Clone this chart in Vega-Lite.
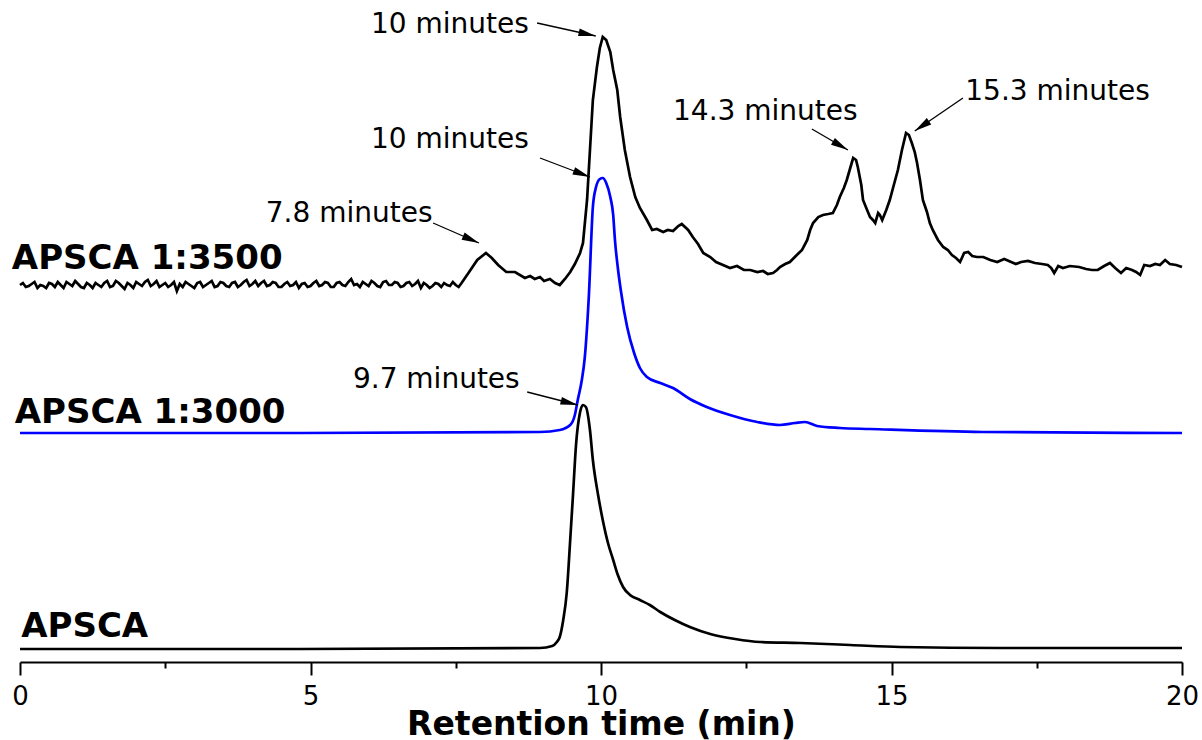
{
  "$schema": "https://vega.github.io/schema/vega-lite/v6.json",
  "width": 1162,
  "height": 662,
  "autosize": "none",
  "padding": {"left": 20, "top": 0, "right": 20, "bottom": 78},
  "background": "white",
  "config": {"view": {"stroke": null}, "font": "DejaVu Sans"},
  "datasets": {
    "apsca": [
      {"t":0,"s":13},{"t":4.82,"s":13},{"t":8.95,"s":14},{"t":9.16,"s":16},{"t":9.24,"s":20},{"t":9.29,"s":25},{"t":9.35,"s":42},{"t":9.41,"s":69},{"t":9.47,"s":122},{"t":9.52,"s":169},{"t":9.57,"s":217},{"t":9.64,"s":250},{"t":9.69,"s":257},{"t":9.74,"s":255},{"t":9.81,"s":232},{"t":9.86,"s":202},{"t":9.95,"s":167},{"t":10.03,"s":142},{"t":10.12,"s":119},{"t":10.21,"s":102},{"t":10.29,"s":87},{"t":10.38,"s":75},{"t":10.5,"s":67},{"t":10.67,"s":62},{"t":10.84,"s":57},{"t":11.02,"s":50},{"t":11.27,"s":42},{"t":11.53,"s":35},{"t":11.88,"s":28},{"t":12.31,"s":23},{"t":12.74,"s":20},{"t":13.43,"s":19},{"t":14.29,"s":17},{"t":15.15,"s":15},{"t":16.87,"s":14},{"t":20,"s":14}
    ],
    "apsca3000": [
      {"t":0,"s":229},{"t":4.82,"s":229},{"t":8.95,"s":230},{"t":9.29,"s":232},{"t":9.47,"s":237},{"t":9.55,"s":247},{"t":9.6,"s":262},{"t":9.67,"s":282},{"t":9.72,"s":304},{"t":9.79,"s":365},{"t":9.86,"s":455},{"t":9.91,"s":474},{"t":9.98,"s":483},{"t":10.03,"s":484},{"t":10.09,"s":479},{"t":10.16,"s":465},{"t":10.21,"s":447},{"t":10.24,"s":422},{"t":10.29,"s":394},{"t":10.34,"s":372},{"t":10.45,"s":335},{"t":10.57,"s":309},{"t":10.67,"s":294},{"t":10.79,"s":285},{"t":11.02,"s":279},{"t":11.24,"s":274},{"t":11.53,"s":263},{"t":11.82,"s":255},{"t":12.22,"s":247},{"t":12.69,"s":240},{"t":13.08,"s":237},{"t":13.34,"s":239},{"t":13.51,"s":240},{"t":13.72,"s":236},{"t":14.11,"s":234},{"t":14.63,"s":233},{"t":16.57,"s":230},{"t":20,"s":229}
    ],
    "apsca3500": [
      {"t":0,"s":377},{"t":0.05,"s":379},{"t":0.1,"s":375},{"t":0.15,"s":376},{"t":0.2,"s":378},{"t":0.25,"s":380},{"t":0.3,"s":374},{"t":0.35,"s":377},{"t":0.4,"s":376},{"t":0.45,"s":374},{"t":0.5,"s":379},{"t":0.55,"s":378},{"t":0.6,"s":375},{"t":0.65,"s":380},{"t":0.7,"s":377},{"t":0.75,"s":374},{"t":0.8,"s":380},{"t":0.85,"s":378},{"t":0.9,"s":376},{"t":0.95,"s":381},
      {"t":1.0,"s":378},{"t":1.05,"s":375},{"t":1.1,"s":374},{"t":1.15,"s":379},{"t":1.2,"s":377},{"t":1.25,"s":374},{"t":1.3,"s":379},{"t":1.35,"s":377},{"t":1.4,"s":375},{"t":1.45,"s":379},{"t":1.5,"s":381},{"t":1.55,"s":375},{"t":1.6,"s":376},{"t":1.65,"s":381},{"t":1.7,"s":379},{"t":1.75,"s":376},{"t":1.8,"s":373},{"t":1.85,"s":379},{"t":1.9,"s":377},{"t":1.95,"s":374},
      {"t":2.0,"s":380},{"t":2.05,"s":378},{"t":2.1,"s":376},{"t":2.15,"s":380},{"t":2.2,"s":382},{"t":2.25,"s":376},{"t":2.3,"s":378},{"t":2.35,"s":381},{"t":2.4,"s":375},{"t":2.45,"s":377},{"t":2.5,"s":379},{"t":2.55,"s":375},{"t":2.6,"s":377},{"t":2.65,"s":380},{"t":2.7,"s":371},{"t":2.75,"s":378},{"t":2.8,"s":375},{"t":2.85,"s":380},{"t":2.9,"s":378},{"t":2.95,"s":376},
      {"t":3.0,"s":374},{"t":3.05,"s":379},{"t":3.1,"s":380},{"t":3.15,"s":375},{"t":3.2,"s":377},{"t":3.25,"s":379},{"t":3.3,"s":381},{"t":3.35,"s":375},{"t":3.4,"s":376},{"t":3.45,"s":380},{"t":3.5,"s":379},{"t":3.55,"s":376},{"t":3.6,"s":375},{"t":3.65,"s":379},{"t":3.7,"s":380},{"t":3.75,"s":375},{"t":3.8,"s":377},{"t":3.85,"s":380},{"t":3.9,"s":382},{"t":3.95,"s":376},
      {"t":4.0,"s":378},{"t":4.05,"s":381},{"t":4.1,"s":376},{"t":4.15,"s":379},{"t":4.2,"s":381},{"t":4.25,"s":376},{"t":4.3,"s":377},{"t":4.35,"s":380},{"t":4.4,"s":379},{"t":4.45,"s":375},{"t":4.5,"s":375},{"t":4.55,"s":378},{"t":4.6,"s":380},{"t":4.65,"s":376},{"t":4.7,"s":377},{"t":4.75,"s":380},{"t":4.8,"s":374},{"t":4.85,"s":378},{"t":4.9,"s":379},{"t":4.95,"s":375},
      {"t":5.0,"s":376},{"t":5.05,"s":379},{"t":5.1,"s":381},{"t":5.15,"s":376},{"t":5.2,"s":377},{"t":5.25,"s":380},{"t":5.3,"s":379},{"t":5.35,"s":375},{"t":5.4,"s":375},{"t":5.45,"s":379},{"t":5.5,"s":380},{"t":5.55,"s":377},{"t":5.6,"s":376},{"t":5.65,"s":380},{"t":5.7,"s":383},{"t":5.75,"s":377},{"t":5.8,"s":378},{"t":5.85,"s":375},{"t":5.9,"s":380},{"t":5.95,"s":378},
      {"t":6.0,"s":376},{"t":6.05,"s":381},{"t":6.1,"s":379},{"t":6.15,"s":376},{"t":6.2,"s":375},{"t":6.25,"s":380},{"t":6.3,"s":381},{"t":6.35,"s":377},{"t":6.4,"s":377},{"t":6.45,"s":380},{"t":6.5,"s":379},{"t":6.55,"s":375},{"t":6.6,"s":376},{"t":6.65,"s":379},{"t":6.7,"s":380},{"t":6.75,"s":376},{"t":6.8,"s":378},{"t":6.85,"s":381},{"t":6.9,"s":374},{"t":6.95,"s":379},
      {"t":7.0,"s":377},{"t":7.05,"s":374},{"t":7.1,"s":376},{"t":7.15,"s":379},{"t":7.2,"s":378},{"t":7.25,"s":375},{"t":7.3,"s":379},{"t":7.35,"s":377},{"t":7.4,"s":376},{"t":7.45,"s":380},{"t":7.5,"s":377},{"t":7.55,"s":375},{"t":7.6,"s":379},
      {"t":7.73,"s":390},{"t":7.87,"s":402},{"t":8.02,"s":409},{"t":8.12,"s":404},{"t":8.23,"s":397},{"t":8.37,"s":390},{"t":8.52,"s":390},{"t":8.69,"s":384},{"t":8.78,"s":386},{"t":8.86,"s":383},{"t":8.95,"s":385},{"t":9.02,"s":381},{"t":9.12,"s":383},{"t":9.21,"s":379},{"t":9.29,"s":377},{"t":9.38,"s":383},{"t":9.47,"s":390},{"t":9.55,"s":398},{"t":9.64,"s":409},{"t":9.69,"s":419},{"t":9.76,"s":462},{"t":9.81,"s":512},{"t":9.86,"s":562},{"t":9.93,"s":595},{"t":9.98,"s":614},{"t":10.03,"s":625},{"t":10.09,"s":622},{"t":10.16,"s":610},{"t":10.21,"s":592},{"t":10.28,"s":572},{"t":10.33,"s":545},{"t":10.41,"s":512},{"t":10.5,"s":485},{"t":10.59,"s":465},{"t":10.67,"s":454},{"t":10.79,"s":442},{"t":10.88,"s":432},{"t":10.96,"s":433},{"t":11.07,"s":430},{"t":11.15,"s":432},{"t":11.24,"s":431},{"t":11.33,"s":436},{"t":11.39,"s":438},{"t":11.5,"s":432},{"t":11.58,"s":425},{"t":11.67,"s":418},{"t":11.76,"s":409},{"t":11.88,"s":405},{"t":11.98,"s":400},{"t":12.1,"s":397},{"t":12.22,"s":394},{"t":12.34,"s":396},{"t":12.46,"s":392},{"t":12.57,"s":392},{"t":12.69,"s":390},{"t":12.79,"s":391},{"t":12.87,"s":388},{"t":12.96,"s":389},{"t":13.03,"s":392},{"t":13.08,"s":395},{"t":13.17,"s":398},{"t":13.25,"s":400},{"t":13.37,"s":407},{"t":13.46,"s":412},{"t":13.55,"s":422},{"t":13.6,"s":432},{"t":13.65,"s":439},{"t":13.74,"s":445},{"t":13.82,"s":447},{"t":13.91,"s":448},{"t":13.99,"s":449},{"t":14.06,"s":457},{"t":14.11,"s":465},{"t":14.18,"s":474},{"t":14.23,"s":482},{"t":14.29,"s":494},{"t":14.34,"s":504},{"t":14.39,"s":502},{"t":14.42,"s":495},{"t":14.48,"s":477},{"t":14.51,"s":462},{"t":14.58,"s":452},{"t":14.63,"s":445},{"t":14.68,"s":442},{"t":14.72,"s":439},{"t":14.77,"s":449},{"t":14.8,"s":447},{"t":14.84,"s":442},{"t":14.91,"s":452},{"t":14.97,"s":462},{"t":15.04,"s":477},{"t":15.11,"s":492},{"t":15.18,"s":512},{"t":15.25,"s":529},{"t":15.3,"s":527},{"t":15.35,"s":519},{"t":15.4,"s":510},{"t":15.44,"s":499},{"t":15.49,"s":482},{"t":15.54,"s":462},{"t":15.61,"s":450},{"t":15.66,"s":439},{"t":15.71,"s":432},{"t":15.8,"s":422},{"t":15.89,"s":415},{"t":15.97,"s":412},{"t":16.04,"s":407},{"t":16.11,"s":404},{"t":16.18,"s":400},{"t":16.25,"s":409},{"t":16.32,"s":410},{"t":16.39,"s":406},{"t":16.47,"s":405},{"t":16.58,"s":405},{"t":16.7,"s":402},{"t":16.82,"s":400},{"t":16.94,"s":403},{"t":17.06,"s":400},{"t":17.14,"s":398},{"t":17.23,"s":400},{"t":17.35,"s":401},{"t":17.47,"s":399},{"t":17.59,"s":398},{"t":17.69,"s":397},{"t":17.75,"s":394},{"t":17.8,"s":389},{"t":17.87,"s":396},{"t":17.95,"s":394},{"t":18.07,"s":396},{"t":18.23,"s":395},{"t":18.35,"s":393},{"t":18.45,"s":392},{"t":18.55,"s":392},{"t":18.66,"s":396},{"t":18.76,"s":399},{"t":18.85,"s":394},{"t":18.95,"s":389},{"t":19.04,"s":394},{"t":19.14,"s":392},{"t":19.21,"s":390},{"t":19.28,"s":387},{"t":19.35,"s":397},{"t":19.45,"s":396},{"t":19.54,"s":398},{"t":19.62,"s":397},{"t":19.71,"s":402},{"t":19.79,"s":398},{"t":19.9,"s":397},{"t":20,"s":395}
    ],
    "names": [
      {"text":"APSCA 1:3500","t":-0.14,"s":393},
      {"text":"APSCA 1:3000","t":-0.09,"s":239},
      {"text":"APSCA","t":0.02,"s":25}
    ],
    "notes": [
      {"text":"10 minutes","t":6.04,"s":629},
      {"text":"10 minutes","t":6.04,"s":514},
      {"text":"7.8 minutes","t":4.23,"s":440},
      {"text":"9.7 minutes","t":5.73,"s":274},
      {"text":"14.3 minutes","t":11.24,"s":542},
      {"text":"15.3 minutes","t":16.27,"s":562}
    ],
    "arrows": [
      {"t":8.9,"s":639,"t2":9.91,"s2":626},
      {"t":8.95,"s":504,"t2":9.81,"s2":485},
      {"t":7.11,"s":439,"t2":7.9,"s2":419},
      {"t":8.73,"s":270,"t2":9.6,"s2":257},
      {"t":13.63,"s":533,"t2":14.25,"s2":512},
      {"t":16.23,"s":564,"t2":15.4,"s2":531}
    ]
  },
  "layer": [
    {
      "data": {"name": "apsca"},
      "mark": {"type": "line", "color": "#000000", "strokeWidth": 2.7, "interpolate": "monotone"},
      "encoding": {
        "x": {
          "field": "t", "type": "quantitative",
          "scale": {"domain": [0, 20], "nice": false, "zero": false},
          "axis": {
            "title": "Retention time (min)",
            "values": [0, 2.5, 5, 7.5, 10, 12.5, 15, 17.5, 20],
            "labelExpr": "datum.value % 5 === 0 ? format(datum.value, 'd') : ''",
            "tickSize": {"condition": {"test": "datum.value % 5 === 0", "value": 13}, "value": 6},
            "tickWidth": 2,
            "tickColor": "#000000",
            "domainColor": "#000000",
            "domainWidth": 2,
            "grid": false,
            "labelFont": "DejaVu Sans",
            "labelFontSize": 26,
            "labelColor": "#000000",
            "labelPadding": 8,
            "labelFlush": false,
            "labelOverlap": false,
            "titleFont": "DejaVu Sans",
            "titleFontSize": 33,
            "titleFontWeight": "bold",
            "titleColor": "#000000",
            "titleBaseline": "alphabetic",
            "titleY": 72
          }
        },
        "y": {
          "field": "s", "type": "quantitative",
          "scale": {"domain": [0, 662], "nice": false, "zero": false},
          "axis": null
        }
      }
    },
    {
      "data": {"name": "apsca3000"},
      "mark": {"type": "line", "color": "#0000FF", "strokeWidth": 2.7, "interpolate": "monotone"},
      "encoding": {
        "x": {"field": "t", "type": "quantitative"},
        "y": {"field": "s", "type": "quantitative"}
      }
    },
    {
      "data": {"name": "apsca3500"},
      "mark": {"type": "line", "color": "#000000", "strokeWidth": 2.7},
      "encoding": {
        "x": {"field": "t", "type": "quantitative"},
        "y": {"field": "s", "type": "quantitative"}
      }
    },
    {
      "data": {"name": "names"},
      "mark": {"type": "text", "align": "left", "baseline": "alphabetic", "font": "DejaVu Sans", "fontSize": 34, "fontWeight": "bold", "color": "#000000"},
      "encoding": {
        "x": {"field": "t", "type": "quantitative"},
        "y": {"field": "s", "type": "quantitative"},
        "text": {"field": "text"}
      }
    },
    {
      "data": {"name": "notes"},
      "mark": {"type": "text", "align": "left", "baseline": "alphabetic", "font": "DejaVu Sans", "fontSize": 28, "color": "#000000"},
      "encoding": {
        "x": {"field": "t", "type": "quantitative"},
        "y": {"field": "s", "type": "quantitative"},
        "text": {"field": "text"}
      }
    },
    {
      "data": {"name": "arrows"},
      "mark": {"type": "rule", "color": "#000000", "strokeWidth": 1.3},
      "encoding": {
        "x": {"field": "t", "type": "quantitative"},
        "y": {"field": "s", "type": "quantitative"},
        "x2": {"field": "t2"},
        "y2": {"field": "s2"}
      }
    },
    {
      "data": {"name": "arrows"},
      "transform": [
        {"calculate": "atan2(-(datum.s2 - datum.s), (datum.t2 - datum.t) * 58.1) * 180 / PI", "as": "ang"}
      ],
      "mark": {"type": "point", "shape": "M0,0L-2,-0.45L-2,0.45Z", "filled": true, "color": "#000000", "opacity": 1, "size": 300, "strokeWidth": 0},
      "encoding": {
        "x": {"field": "t2", "type": "quantitative"},
        "y": {"field": "s2", "type": "quantitative"},
        "angle": {"field": "ang", "type": "quantitative", "scale": null}
      }
    }
  ]
}
